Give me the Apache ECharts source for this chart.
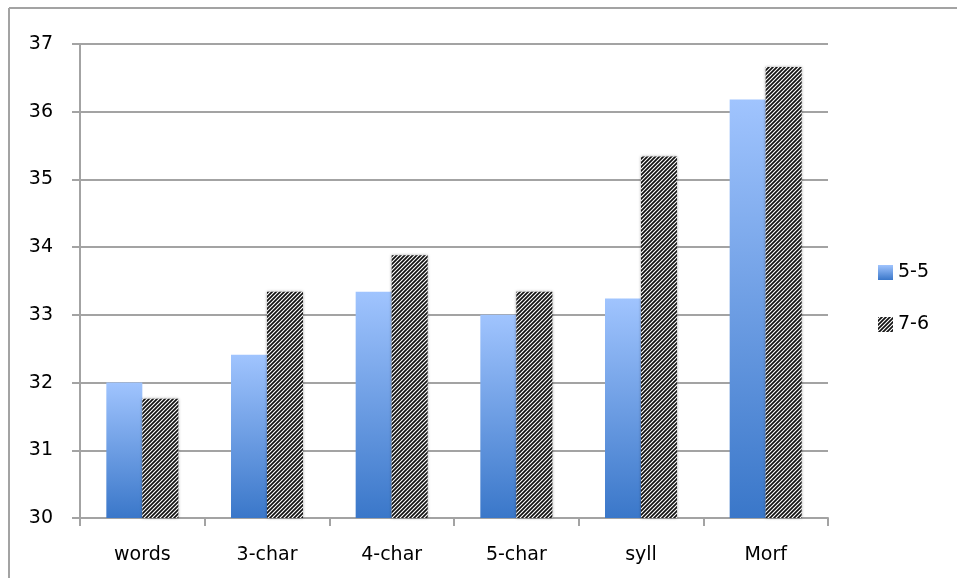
<!DOCTYPE html>
<html><head><meta charset="utf-8">
<script src="https://cdn.jsdelivr.net/npm/echarts@6/dist/echarts.min.js"></script>
<style>html,body{margin:0;padding:0;background:#fff}#c{width:957px;height:578px}</style>
</head><body><div id="c"></div>
<script>
var categories = ['words', '3-char', '4-char', '5-char', 'syll', 'Morf'];
var series55 = [32.0, 32.41, 33.34, 33.0, 33.24, 36.18];
var series76 = [31.76, 33.34, 33.88, 33.34, 35.34, 36.66];
var seriesNames = ['5-5', '7-6'];

function hatch() {
  var c = document.createElement('canvas');
  c.width = 4; c.height = 4;
  var g = c.getContext('2d');
  g.fillStyle = '#ffffff'; g.fillRect(0, 0, 4, 4);
  g.strokeStyle = '#111111'; g.lineWidth = 1.7;
  g.beginPath();
  g.moveTo(-1, 5); g.lineTo(5, -1);
  g.moveTo(-3, 3); g.lineTo(3, -3);
  g.moveTo(1, 7); g.lineTo(7, 1);
  g.stroke();
  return c;
}

var chart = echarts.init(document.getElementById('c'), null, {renderer: 'canvas'});
var font = 'DejaVu Sans, sans-serif';
chart.setOption({
  animation: false,
  backgroundColor: '#ffffff',
  graphic: [
    {type: 'line', shape: {x1: 9, y1: 8, x2: 957, y2: 8}, style: {stroke: '#a3a3a3', lineWidth: 2}},
    {type: 'line', shape: {x1: 9, y1: 8, x2: 9, y2: 578}, style: {stroke: '#a3a3a3', lineWidth: 2}}
  ],
  grid: {left: 80, right: 129, top: 44, bottom: 60, containLabel: false},
  legend: {
    orient: 'vertical', left: 873, top: 258, itemGap: 33,
    itemWidth: 15, itemHeight: 15, icon: 'rect',
    textStyle: {fontFamily: font, fontSize: 19, color: '#000'},
    data: seriesNames
  },
  xAxis: {
    type: 'category', data: categories,
    axisLine: {lineStyle: {color: '#a3a3a3', width: 2}},
    axisTick: {show: true, length: 8, lineStyle: {color: '#a3a3a3', width: 2}},
    axisLabel: {fontFamily: font, fontSize: 19, color: '#000', margin: 28}
  },
  yAxis: {
    type: 'value', min: 30, max: 37, interval: 1,
    axisLine: {show: true, lineStyle: {color: '#a3a3a3', width: 2}},
    axisTick: {show: true, inside: false, length: 8, lineStyle: {color: '#a3a3a3', width: 2}},
    splitLine: {lineStyle: {color: '#a3a3a3', width: 2}},
    axisLabel: {fontFamily: font, fontSize: 19, color: '#000', margin: 27}
  },
  series: [
    {
      name: seriesNames[0], type: 'bar', data: series55, barWidth: 36, barGap: '0%',
      itemStyle: {
        color: {type: 'linear', x: 0, y: 0, x2: 0, y2: 1,
          colorStops: [{offset: 0, color: '#a0c4fe'}, {offset: 1, color: '#3a77c9'}]}
      }
    },
    {
      name: seriesNames[1], type: 'bar', data: series76, barWidth: 36,
      itemStyle: {
        color: {image: hatch(), repeat: 'repeat'},
        shadowColor: 'rgba(0,0,0,0.35)', shadowBlur: 3
      }
    }
  ]
});
</script></body></html>
